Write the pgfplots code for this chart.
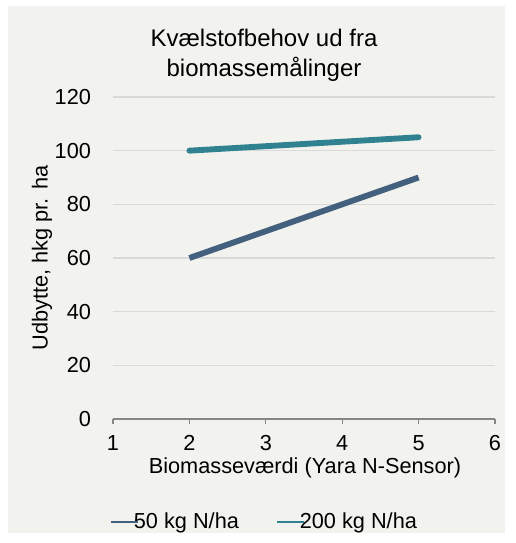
\documentclass[border=0pt]{standalone}
\usepackage{fontspec}
\setmainfont{Liberation Sans}
\usepackage{pgfplots}
\pgfplotsset{compat=1.18}
\definecolor{bgc}{HTML}{F2F2EE}
\definecolor{gridc}{HTML}{D9D9D9}
\definecolor{axc}{HTML}{868686}
\definecolor{darkl}{HTML}{43607E}
\definecolor{teall}{HTML}{318291}
\begin{document}
\begin{tikzpicture}
\path[use as bounding box, fill=white] (0,0) rectangle (386.25pt,-407.25pt);
\fill[bgc] (6pt,-4.5pt) rectangle (378.75pt,-399.75pt);
\begin{axis}[
  at={(84.75pt,-314.25pt)}, anchor=origin,
  scale only axis, width=286.5pt, height=241.5pt,
  xmin=1, xmax=6, ymin=0, ymax=120,
  xtick={1,2,3,4,5,6}, ytick={0,20,...,120},
  /pgf/number format/assume math mode=true,
  tick label style={font=\fontsize{16.3}{19}\selectfont, black},
  axis lines=left,
  axis line style={-},
  x axis line style={axc, line width=0.8pt},
  y axis line style={draw=none},
  ytick style={draw=none},
  xtick style={axc, line width=0.8pt},
  tick align=outside, major tick length=4pt,
  ymajorgrids, grid style={gridc, line width=1pt},
  yticklabel style={xshift=-9pt},
  xticklabel style={yshift=-4.5pt},
  legend columns=2,
  legend style={at={(0.398,-0.32)}, anchor=center, draw=none, fill=none,
    font=\fontsize{16.3}{19}\selectfont, /tikz/every even column/.append style={column sep=26pt},
    legend cell align=left, inner sep=0pt},
  legend image code/.code={\draw[#1, line width=1.6pt, line cap=butt] (0pt,0pt) -- (20pt,0pt);},
  clip=false,
]
\addplot[darkl, line width=4.4pt, line cap=butt] coordinates {(2,60) (5,90)};
\addlegendentry{\hspace{-6pt}50 kg N/ha}
\addplot[teall, line width=4.4pt, line cap=round] coordinates {(2,100) (5,105)};
\addlegendentry{\hspace{-6pt}200 kg N/ha}
\end{axis}
\node[align=center, font=\fontsize{18}{22.5}\selectfont] at (198pt,-41.5pt) {Kvælstofbehov ud fra\\biomassemålinger};
\node[rotate=90, font=\fontsize{16.3}{19}\selectfont] at (31.5pt,-193.5pt) {Udbytte, hkg pr. ha};
\node[font=\fontsize{16.3}{19}\selectfont] at (228.75pt,-351pt) {Biomasseværdi (Yara N-Sensor)};
\end{tikzpicture}
\end{document}
